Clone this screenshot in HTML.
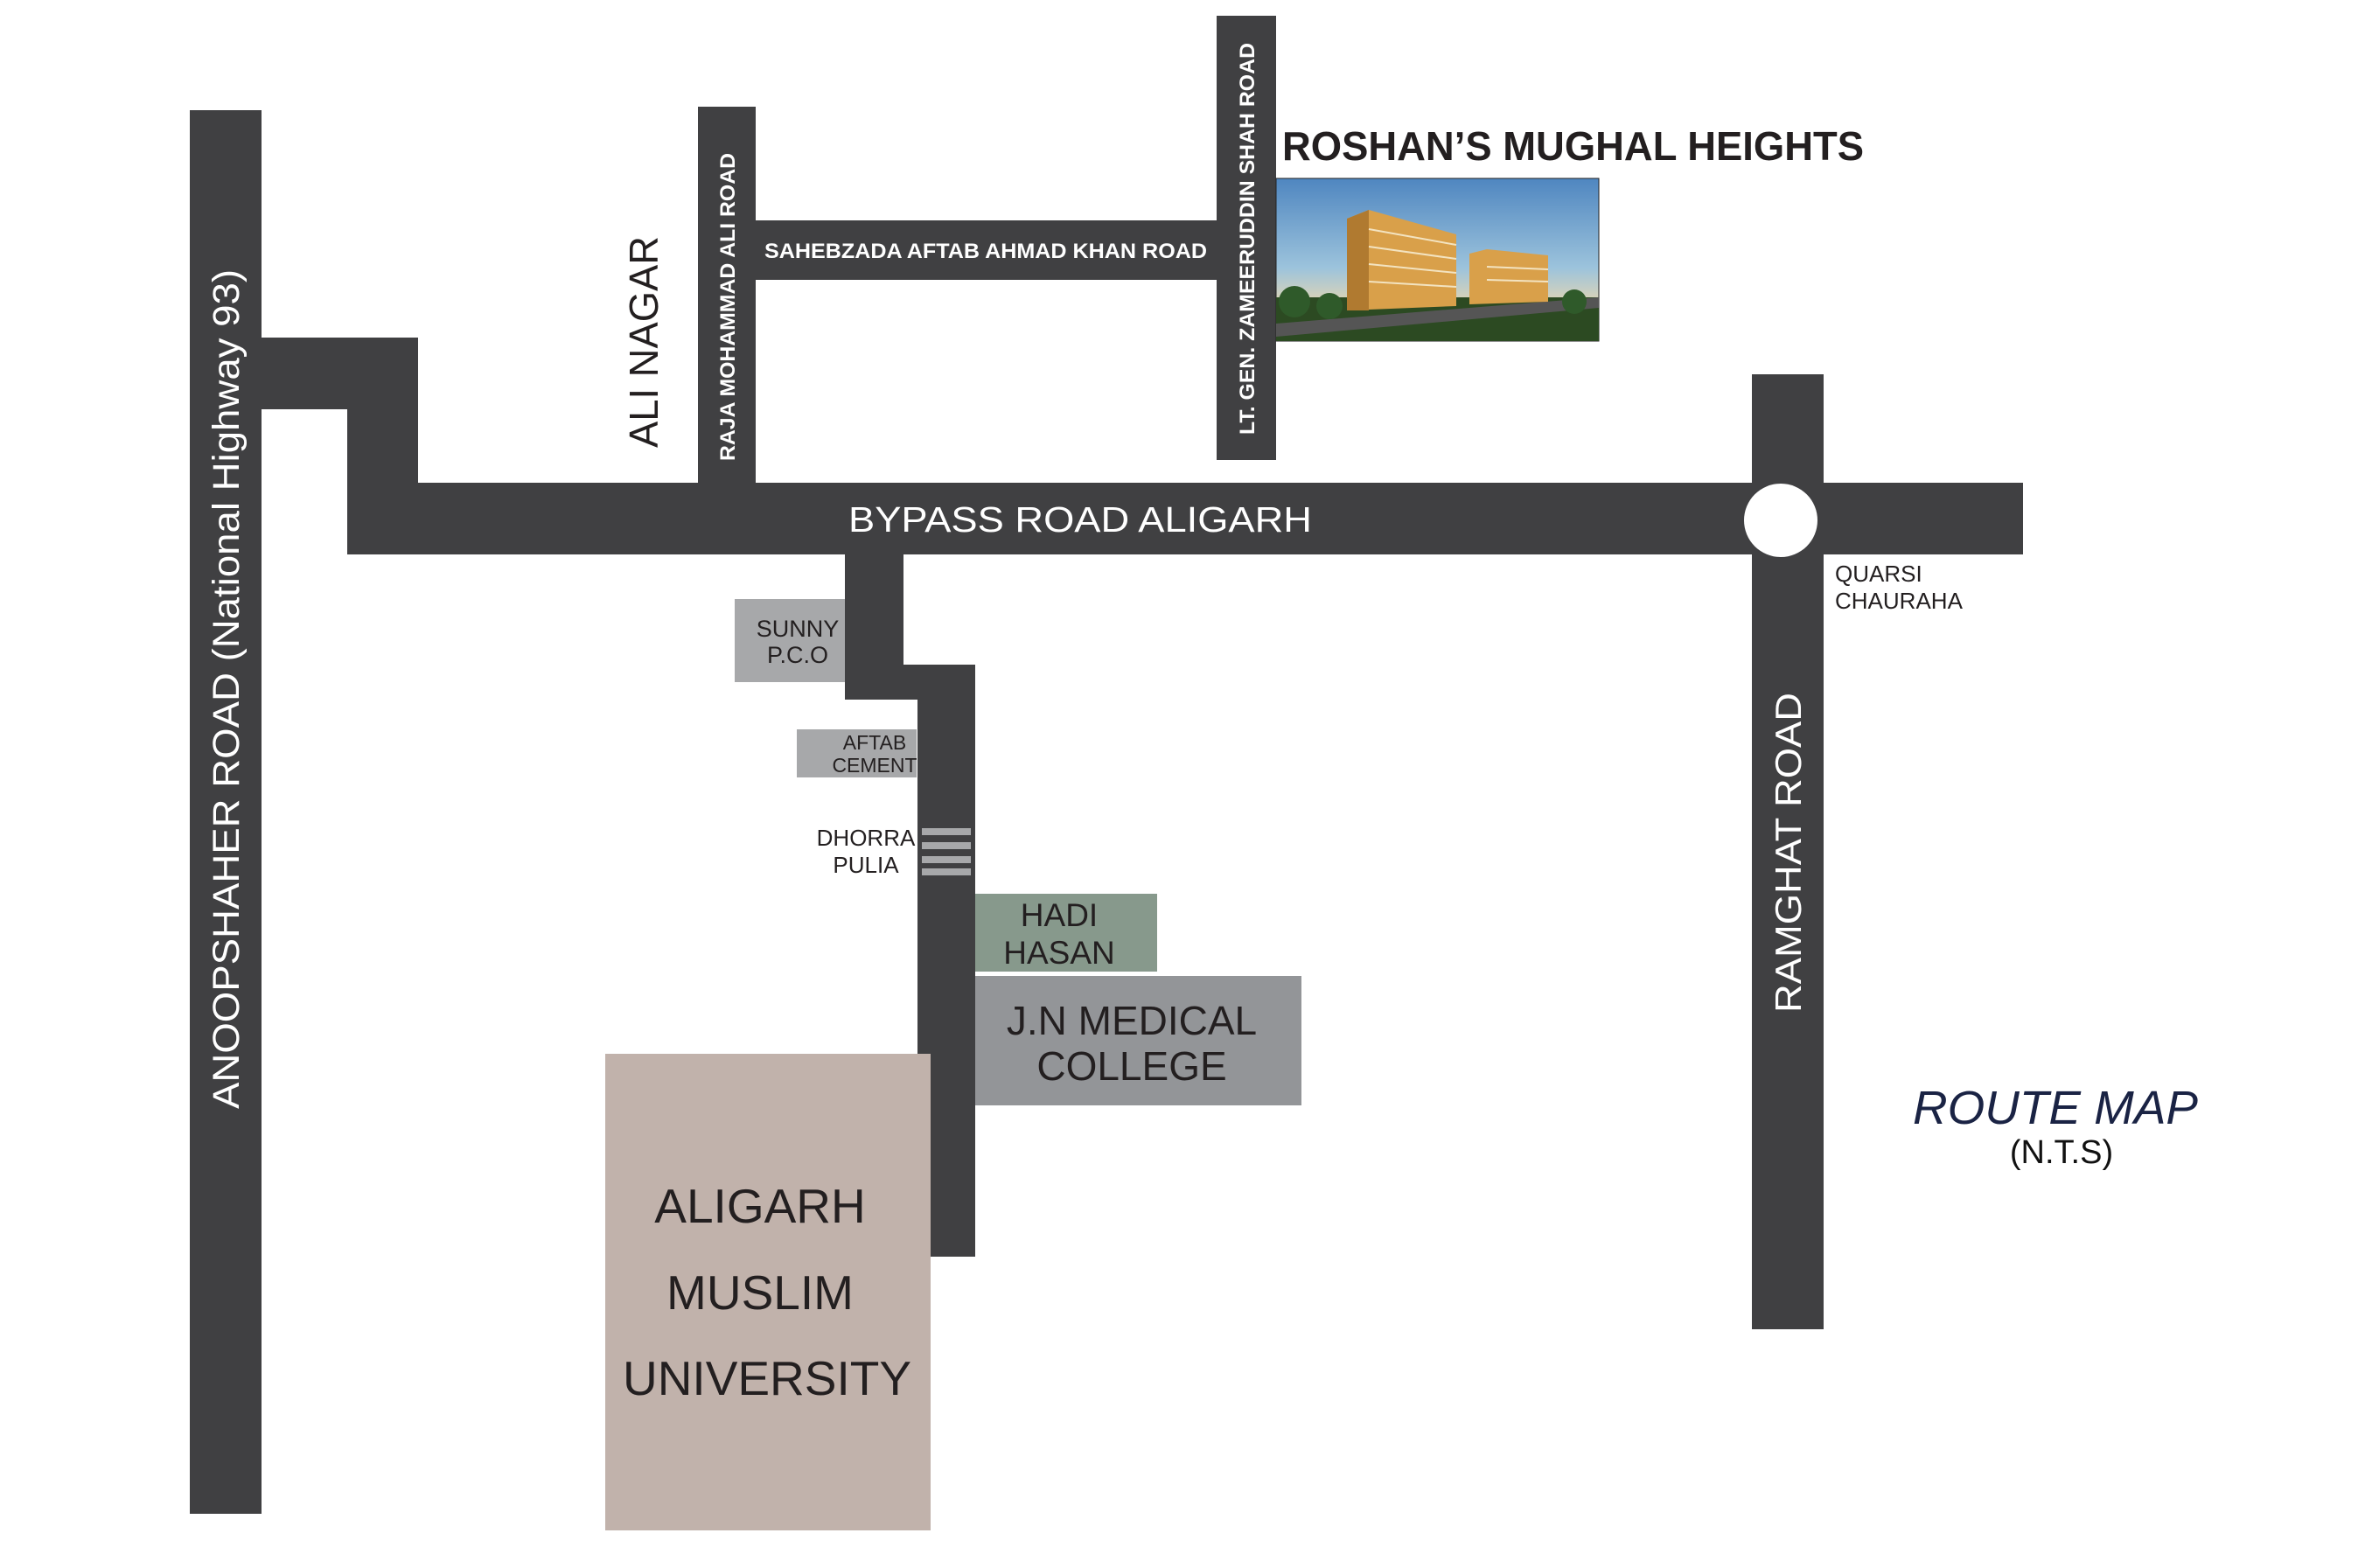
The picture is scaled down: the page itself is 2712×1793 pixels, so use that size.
<!DOCTYPE html>
<html><head><meta charset="utf-8"><style>
html,body{margin:0;padding:0;background:#fff;}
svg{display:block;}
text{font-family:"Liberation Sans",sans-serif;}
</style></head><body>
<svg width="2712" height="1793" viewBox="0 0 2712 1793" xmlns="http://www.w3.org/2000/svg">
<defs>
<linearGradient id="sky" x1="0" y1="0" x2="0" y2="1">
<stop offset="0" stop-color="#4f86c0"/><stop offset="0.55" stop-color="#9cc3dc"/><stop offset="0.8" stop-color="#e8d7b0"/><stop offset="1" stop-color="#d9c9a0"/>
</linearGradient>
</defs>
<g fill="#404042">
<rect x="217" y="126" width="82" height="1605"/>
<rect x="299" y="386" width="179" height="82"/>
<rect x="397" y="386" width="81" height="248"/>
<rect x="397" y="552" width="1916" height="82"/>
<rect x="798" y="122" width="66" height="432"/>
<rect x="864" y="252" width="529" height="68"/>
<rect x="1391" y="18" width="68" height="508"/>
<rect x="2003" y="428" width="82" height="1092"/>
<rect x="966" y="632" width="67" height="168"/>
<rect x="1033" y="760" width="82" height="40"/>
<rect x="1049" y="760" width="66" height="677"/>
</g>
<ellipse cx="2036" cy="595" rx="42" ry="42" fill="#fff"/>
<g fill="#a7a8aa">
<rect x="1054" y="947" width="56" height="8"/>
<rect x="1054" y="963" width="56" height="8"/>
<rect x="1054" y="979" width="56" height="8"/>
<rect x="1054" y="993" width="56" height="8"/>
</g>
<rect x="840" y="685" width="126" height="95" fill="#a7a8aa"/>
<rect x="911" y="834" width="137" height="55" fill="#a7a8aa"/>
<rect x="1115" y="1022" width="208" height="89" fill="#87998c"/>
<rect x="1115" y="1116" width="373" height="148" fill="#939598"/>
<rect x="692" y="1205" width="372" height="545" fill="#c1b2ab"/>
<rect x="1459" y="204" width="369" height="186" fill="url(#sky)" stroke="#222" stroke-width="1"/>
<rect x="1459" y="340" width="369" height="50" fill="#2c4a22"/>
<polygon points="1459,370 1828,340 1828,352 1459,385" fill="#555"/>
<polygon points="1540,250 1565,240 1665,268 1665,350 1540,355" fill="#d9a04a"/>
<polygon points="1540,250 1565,240 1565,355 1540,355" fill="#b07a30"/>
<polygon points="1680,290 1700,285 1770,292 1770,345 1680,348" fill="#d9a04a"/>
<g stroke="#f3e3c0" stroke-width="2">
<line x1="1565" y1="262" x2="1665" y2="280"/><line x1="1565" y1="282" x2="1665" y2="296"/><line x1="1565" y1="302" x2="1665" y2="312"/><line x1="1565" y1="322" x2="1665" y2="328"/>
<line x1="1700" y1="305" x2="1770" y2="308"/><line x1="1700" y1="320" x2="1770" y2="322"/>
</g>
<g fill="#2f5a2a"><circle cx="1480" cy="345" r="18"/><circle cx="1520" cy="350" r="15"/><circle cx="1800" cy="345" r="14"/></g>
<text x="1466" y="183" font-size="46" font-weight="bold" fill="#231f20" textLength="665" lengthAdjust="spacingAndGlyphs">ROSHAN’S MUGHAL HEIGHTS</text>
<text x="874" y="295" font-size="24" font-weight="bold" fill="#fff" textLength="506" lengthAdjust="spacingAndGlyphs">SAHEBZADA AFTAB AHMAD KHAN ROAD</text>
<text transform="translate(1434,497) rotate(-90)" x="0" y="0" font-size="24" font-weight="bold" fill="#fff" textLength="448" lengthAdjust="spacingAndGlyphs">LT. GEN. ZAMEERUDDIN SHAH ROAD</text>
<text transform="translate(840,527) rotate(-90)" x="0" y="0" font-size="24" font-weight="bold" fill="#fff" textLength="352" lengthAdjust="spacingAndGlyphs">RAJA MOHAMMAD ALI ROAD</text>
<text transform="translate(752,512) rotate(-90)" x="0" y="0" font-size="46" fill="#231f20" textLength="242" lengthAdjust="spacingAndGlyphs">ALI NAGAR</text>
<text transform="translate(273,1268) rotate(-90)" x="0" y="0" font-size="43" fill="#fff" textLength="960" lengthAdjust="spacingAndGlyphs">ANOOPSHAHER ROAD (National Highway 93)</text>
<text x="970" y="608" font-size="41" fill="#fff" textLength="530" lengthAdjust="spacingAndGlyphs">BYPASS ROAD ALIGARH</text>
<text transform="translate(2059,1158) rotate(-90)" x="0" y="0" font-size="42" fill="#fff" textLength="366" lengthAdjust="spacingAndGlyphs">RAMGHAT ROAD</text>
<text x="2098" y="665" font-size="26" fill="#231f20">QUARSI</text>
<text x="2098" y="696" font-size="26" fill="#231f20">CHAURAHA</text>
<g text-anchor="middle" fill="#231f20">
<text x="912" y="728" font-size="27">SUNNY</text>
<text x="912" y="758" font-size="27">P.C.O</text>
<text x="1000" y="857" font-size="23">AFTAB</text>
<text x="1000" y="883" font-size="23">CEMENT</text>
<text x="990" y="967" font-size="26">DHORRA</text>
<text x="990" y="998" font-size="26">PULIA</text>
<text x="1211" y="1059" font-size="37">HADI</text>
<text x="1211" y="1102" font-size="37">HASAN</text>
<text x="1294" y="1183" font-size="46">J.N MEDICAL</text>
<text x="1294" y="1235" font-size="46">COLLEGE</text>
<text x="869" y="1398" font-size="55">ALIGARH</text>
<text x="869" y="1497" font-size="55">MUSLIM</text>
<text x="877" y="1595" font-size="55">UNIVERSITY</text>
</g>
<text x="2187" y="1285" font-size="54" font-style="italic" fill="#1a2344" textLength="326" lengthAdjust="spacingAndGlyphs">ROUTE MAP</text>
<text x="2357" y="1330" font-size="38" fill="#111" text-anchor="middle">(N.T.S)</text>
</svg>
</body></html>
